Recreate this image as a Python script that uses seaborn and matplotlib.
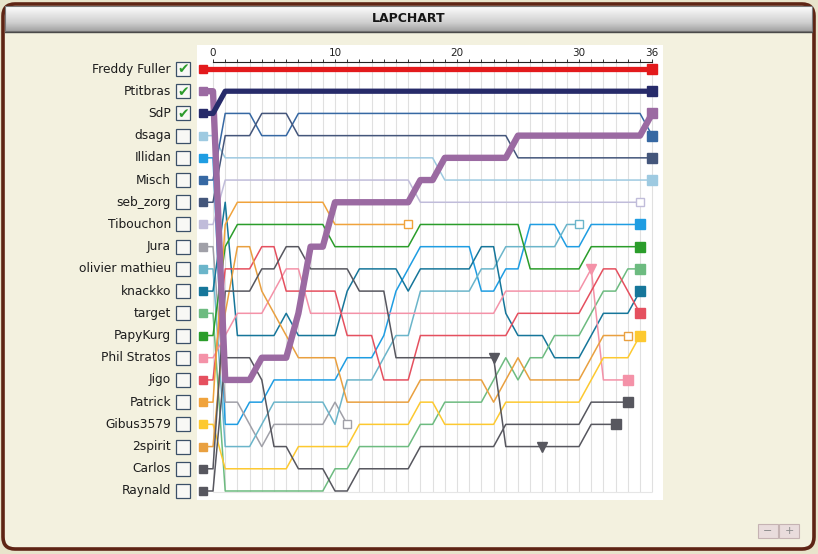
import numpy as np
import matplotlib
matplotlib.use("Agg")
import matplotlib.pyplot as plt
import seaborn as sns
from matplotlib.patches import FancyBboxPatch, Rectangle
from matplotlib.colors import LinearSegmentedColormap

# ---------------- data ----------------
drivers = ["Freddy Fuller", "Ptitbras", "SdP", "dsaga", "Illidan", "Misch", "seb_zorg",
           "Tibouchon", "Jura", "olivier mathieu", "knackko", "target", "PapyKurg",
           "Phil Stratos", "Jigo", "Patrick", "Gibus3579", "2spirit", "Carlos", "Raynald"]
colors = ["#e31a1c", "#9b6aa2", "#272b6a", "#9ecae1", "#1f9de2", "#3668a3", "#44567b",
          "#c0bcda", "#a0a0a8", "#6bb5ca", "#16769a", "#6dbb80", "#2b9d2b",
          "#f492a8", "#e5505f", "#f0a33c", "#fdc930", "#e9a040", "#57575f", "#57575f"]
checked = [True, True, True, False, False, False, False, False, False, False,
           False, False, False, False, False, False, False, False, False, False]

pos_freddy = [1, 1, 1, 1, 1, 1, 1, 1, 1, 1, 1, 1, 1, 1, 1, 1, 1, 1, 1, 1,
              1, 1, 1, 1, 1, 1, 1, 1, 1, 1, 1, 1, 1, 1, 1, 1, 1]
pos_ptitbras = [2, 15, 15, 15, 14, 14, 14, 12, 9, 9, 7, 7, 7, 7, 7, 7, 7, 6, 6, 5,
                5, 5, 5, 5, 5, 4, 4, 4, 4, 4, 4, 4, 4, 4, 4, 4, 3]
pos_sdp = [3, 2, 2, 2, 2, 2, 2, 2, 2, 2, 2, 2, 2, 2, 2, 2, 2, 2, 2, 2,
           2, 2, 2, 2, 2, 2, 2, 2, 2, 2, 2, 2, 2, 2, 2, 2, 2]
pos_dsaga = [4, 5, 5, 5, 5, 5, 5, 5, 5, 5, 5, 5, 5, 5, 5, 5, 5, 5, 5, 6,
             6, 6, 6, 6, 6, 6, 6, 6, 6, 6, 6, 6, 6, 6, 6, 6, 6]
pos_illidan = [5, 17, 17, 16, 16, 15, 15, 15, 15, 15, 15, 14, 14, 14, 13, 11, 10, 9, 9, 9,
               9, 9, 11, 11, 10, 10, 8, 8, 8, 9, 9, 8, 8, 8, 8, 8]
pos_misch = [6, 3, 3, 3, 4, 4, 4, 3, 3, 3, 3, 3, 3, 3, 3, 3, 3, 3, 3, 3,
             3, 3, 3, 3, 3, 3, 3, 3, 3, 3, 3, 3, 3, 3, 3, 3, 4]
pos_seb = [7, 4, 4, 4, 3, 3, 3, 4, 4, 4, 4, 4, 4, 4, 4, 4, 4, 4, 4, 4,
           4, 4, 4, 4, 4, 5, 5, 5, 5, 5, 5, 5, 5, 5, 5, 5, 5]
pos_tibouchon = [8, 6, 6, 6, 6, 6, 6, 6, 6, 6, 6, 6, 6, 6, 6, 6, 6, 7, 7, 7,
                 7, 7, 7, 7, 7, 7, 7, 7, 7, 7, 7, 7, 7, 7, 7, 7]
pos_jura = [9, 16, 16, 17, 18, 17, 17, 17, 17, 17, 16, 17]
pos_olivier = [10, 18, 18, 18, 17, 16, 16, 16, 16, 16, 17, 15, 15, 15, 14, 13, 13, 11, 11, 11,
               11, 11, 10, 10, 9, 9, 9, 9, 9, 8, 8]
pos_knackko = [11, 7, 13, 13, 13, 13, 12, 13, 13, 13, 13, 11, 10, 10, 10, 10, 11, 10, 10, 10,
               10, 10, 9, 9, 12, 13, 13, 13, 14, 14, 14, 13, 12, 12, 12, 11]
pos_target = [12, 20, 20, 20, 20, 20, 20, 20, 20, 20, 19, 19, 18, 18, 18, 18, 18, 17, 17, 16,
              16, 16, 16, 15, 14, 15, 14, 14, 13, 13, 13, 12, 11, 11, 10, 10]
pos_papykurg = [13, 9, 8, 8, 8, 8, 8, 8, 8, 8, 9, 9, 9, 9, 9, 9, 9, 8, 8, 8,
                8, 8, 8, 8, 8, 8, 10, 10, 10, 10, 10, 9, 9, 9, 9, 9]
pos_phil = [14, 13, 12, 12, 12, 11, 10, 10, 12, 12, 12, 12, 12, 12, 12, 12, 12, 12, 12, 12,
            12, 12, 12, 12, 11, 11, 11, 11, 11, 11, 11, 10, 15, 15, 15]
pos_jigo = [15, 10, 10, 10, 9, 9, 11, 11, 11, 11, 11, 13, 13, 13, 15, 15, 15, 13, 13, 13,
            13, 13, 13, 13, 13, 12, 12, 12, 12, 12, 12, 11, 10, 10, 11, 12]
pos_patrick = [16, 8, 7, 7, 7, 7, 7, 7, 7, 7, 8, 8, 8, 8, 8, 8, 8]
pos_gibus = [17, 19, 19, 19, 19, 19, 19, 18, 18, 18, 18, 18, 17, 17, 17, 17, 17, 16, 16, 17,
             17, 17, 17, 17, 16, 16, 16, 16, 16, 16, 16, 15, 14, 14, 14, 13]
pos_2spirit = [18, 12, 9, 9, 11, 12, 13, 14, 14, 14, 14, 16, 16, 16, 16, 16, 16, 15, 15, 15,
               15, 15, 15, 16, 15, 14, 15, 15, 15, 15, 15, 14, 13, 13, 13]
pos_carlos = [19, 11, 11, 11, 10, 10, 9, 9, 10, 10, 10, 10, 11, 11, 11, 14, 14, 14, 14, 14,
              14, 14, 14, 14, 18, 18, 18, 18, 18, 18, 18, 17, 17, 17]
pos_raynald = [20, 14, 14, 14, 15, 18, 18, 19, 19, 19, 20, 20, 19, 19, 19, 19, 19, 18, 18, 18,
               18, 18, 18, 18, 17, 17, 17, 17, 17, 17, 17, 16, 16, 16, 16]

positions = [pos_freddy, pos_ptitbras, pos_sdp, pos_dsaga, pos_illidan, pos_misch, pos_seb,
             pos_tibouchon, pos_jura, pos_olivier, pos_knackko, pos_target, pos_papykurg,
             pos_phil, pos_jigo, pos_patrick, pos_gibus, pos_2spirit, pos_carlos, pos_raynald]
retired = ["Jura", "Patrick", "olivier mathieu", "2spirit", "Tibouchon"]
penalty_driver = ["Carlos", "Carlos", "Phil Stratos"]
penalty_lap = [23, 27, 31]
axis_ticks = [0, 10, 20, 30, 36]
n_laps = 36

# ---------------- layout (pixels) ----------------
W, H = 818, 554
LAP0, PER = 213.0, 12.2
P1, PP = 69.0, 22.21
AX_L, AX_R, AX_T, AX_B = 197, 663, 62, 500
START_X = -0.85

fig = plt.figure(figsize=(W / 100, H / 100), dpi=100)
fig.patch.set_facecolor("#e8e4cb")
bg = fig.add_axes([0, 0, 1, 1])
bg.axis("off")

bg.add_patch(FancyBboxPatch((3, 4), 811, 545, boxstyle="round,pad=0,rounding_size=12",
                            fc="#f3f1df", ec="#5e2414", lw=2.6, zorder=0))
cmap = LinearSegmentedColormap.from_list("hdr", ["#fdfdfd", "#e6e6e6", "#cfcfcf", "#a4a4a4"])
grad = np.linspace(0, 1, 50).reshape(-1, 1)
bg.imshow(grad, extent=(5, 812, 31, 6), cmap=cmap, aspect="auto", zorder=1)
bg.add_patch(Rectangle((5, 6), 807, 25, fc="none", ec="#7a7a7a", lw=0.8, zorder=2))
bg.plot([5, 812], [31.5, 31.5], color="#4a4a4a", lw=1.0, zorder=2)
bg.text(409, 18.5, "LAPCHART", ha="center", va="center", fontsize=9,
        fontweight="bold", color="#151515", zorder=3)

bg.add_patch(Rectangle((AX_L, 45), AX_R - AX_L, AX_B - 45, fc="white", ec="none", zorder=1))

for i, name in enumerate(drivers):
    y = P1 + i * PP
    bg.text(171, y, name, ha="right", va="center", fontsize=8.8, color="#1c1c1c", zorder=3)
    bg.add_patch(Rectangle((176, y - 7), 14, 14, fc="#f8f8f5", ec="#3b5068", lw=0.9, zorder=3))
    if checked[i]:
        bg.text(183.5, y + 0.5, "\u2714", ha="center", va="center", fontsize=10,
                color="#2c9b2c", zorder=4)

for bx, sym in [(758, "\u2212"), (779, "+")]:
    bg.add_patch(Rectangle((bx, 524), 20, 14, fc="#e9dcdc", ec="#c5b3b3", lw=0.8, zorder=2))
    bg.text(bx + 10, 531, sym, ha="center", va="center", fontsize=8, color="#8a8a8a", zorder=3)

bg.set_xlim(0, W)
bg.set_ylim(H, 0)

# ---------------- lap chart ----------------
ax = fig.add_axes([AX_L / W, (H - AX_B) / H, (AX_R - AX_L) / W, (AX_B - AX_T) / H])
ax.patch.set_alpha(0)
xlo, xhi = (AX_L - LAP0) / PER, (AX_R - LAP0) / PER
ytop = 1 - (P1 - AX_T) / PP
ybot = 20 + (AX_B - (P1 + 19 * PP)) / PP

ax.vlines(range(n_laps + 1), ytop, 20.05, color="#e0e0e0", lw=0.8, zorder=0)
ax.hlines(20.05, 0, n_laps, color="#e6e6e6", lw=0.8, zorder=0)

order = [i for i in range(len(drivers)) if not checked[i]] + [i for i in range(len(drivers)) if checked[i]]
for i in order:
    name, c, pos = drivers[i], colors[i], positions[i]
    xs = [START_X] + list(range(len(pos)))
    ys = [pos[0]] + pos
    thick = checked[i]
    lw = (4.6 if name == "Ptitbras" else 3.8) if thick else 1.1
    z = 3 if thick else 2
    sns.lineplot(x=xs, y=ys, color=c, linewidth=lw, sort=False, estimator=None,
                 legend=False, ax=ax, zorder=z)
    ax.plot(START_X, pos[0], marker="s", ms=5.5, color=c, mec=c, ls="none", zorder=5)
    last = len(pos) - 1
    if name in retired:
        ax.plot(last, pos[last], marker="s", ms=6, mfc="white", mec=c, mew=1.0,
                ls="none", zorder=5)
    else:
        ax.plot(last, pos[last], marker="s", ms=6.5, color=c, mec=c, ls="none", zorder=5)

for dn, lp in zip(penalty_driver, penalty_lap):
    k = drivers.index(dn)
    ax.plot(lp, positions[k][lp], marker="v", ms=7, color=colors[k], mec=colors[k],
            ls="none", zorder=6)

ax.set_xlim(xlo, xhi)
ax.set_ylim(ybot, ytop)
ax.set_yticks([])
for s in ["left", "right", "bottom"]:
    ax.spines[s].set_visible(False)
ax.spines["top"].set_bounds(0, n_laps)
ax.spines["top"].set_color("#222222")
ax.spines["top"].set_linewidth(0.8)
ax.xaxis.tick_top()
ax.set_xticks(axis_ticks)
ax.set_xticks(range(n_laps + 1), minor=True)
ax.tick_params(axis="x", which="both", direction="out", length=2.5, width=0.7,
               color="#333333", pad=0.5, labelsize=7.5, labelcolor="#222222")
ax.tick_params(axis="x", which="minor", length=2)

fig.savefig("out.png", dpi=100, facecolor=fig.get_facecolor())
